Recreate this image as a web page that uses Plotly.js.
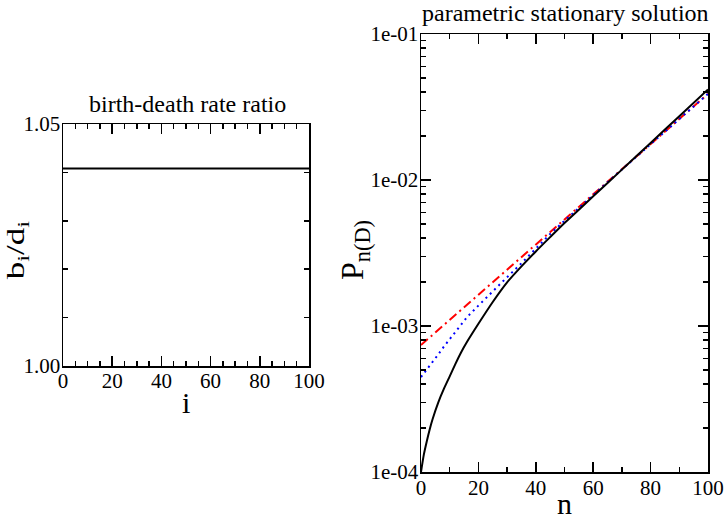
<!DOCTYPE html>
<html>
<head>
<meta charset="utf-8">
<script src="https://cdn.plot.ly/plotly-3.0.1.min.js"></script>
<style>html,body{margin:0;padding:0;background:#fff;}#chart{width:727px;height:519px;}</style>
</head>
<body>
<div id="chart"></div>
<script>
// Left panel: birth-death rate ratio
var ratioI = [0, 100];
var ratioValues = [1.0408, 1.0408];

// Right panel: parametric stationary solution
var blackN = [0, 1, 2, 3, 4, 6, 8, 10, 12, 14, 16, 20, 25, 30, 35, 40, 45, 50, 60, 70, 80, 90, 100];
var blackP = [1.0e-4, 1.32e-4, 1.62e-4, 1.95e-4, 2.29e-4, 2.99e-4, 3.72e-4, 4.52e-4, 5.5e-4, 6.61e-4, 7.76e-4, 1.035e-3, 1.46e-3, 1.99e-3, 2.56e-3, 3.24e-3, 4.06e-3, 5.07e-3, 7.73e-3, 1.178e-2, 1.795e-2, 2.735e-2, 4.17e-2];

var blueN = [0, 2, 4, 6, 8, 10, 13, 16, 20, 25, 30, 35, 40, 45, 50, 60, 70, 80, 90, 100];
var blueP = [4.47e-4, 5.01e-4, 5.62e-4, 6.38e-4, 7.24e-4, 8.13e-4, 9.77e-4, 1.148e-3, 1.38e-3, 1.74e-3, 2.16e-3, 2.69e-3, 3.39e-3, 4.27e-3, 5.25e-3, 7.91e-3, 1.18e-2, 1.758e-2, 2.61e-2, 3.89e-2];

var redN = [0, 10, 20, 30, 40, 50, 60, 70, 80, 90, 100];
var redP = [7.41e-4, 1.10e-3, 1.637e-3, 2.43e-3, 3.61e-3, 5.37e-3, 7.98e-3, 1.186e-2, 1.762e-2, 2.618e-2, 3.89e-2];

// Tick labels
var leftXTicks = [0, 20, 40, 60, 80, 100];
var leftYTicks = [1.00, 1.05];
var leftYTickText = ["1.00", "1.05"];
var rightXTicks = [0, 20, 40, 60, 80, 100];
var rightYTicks = [1e-4, 1e-3, 1e-2, 1e-1];
var rightYTickText = ["1e-04", "1e-03", "1e-02", "1e-01"];

var W = 727, H = 519;
function px(x) { return x / W; }
function py(y) { return 1 - y / H; }

var minorLog = [];
for (var e = -4; e < -1; e++) {
  for (var m = 2; m <= 9; m++) minorLog.push(m * Math.pow(10, e));
}

var fontFam = '"Liberation Serif", "Times New Roman", Times, serif';
var tickFont = {family: fontFam, size: 21, color: "#000"};

var axBase = {
  showgrid: false, zeroline: false, showline: true, linecolor: "#000", linewidth: 1.5,
  mirror: "allticks", ticks: "inside", ticklen: 10, tickwidth: 1.5, tickcolor: "#000",
  tickfont: tickFont
};

function ax(extra) {
  var o = {};
  for (var k in axBase) o[k] = axBase[k];
  for (var k2 in extra) o[k2] = extra[k2];
  return o;
}

var traces = [
  {x: ratioI, y: ratioValues, type: "scatter", mode: "lines", xaxis: "x", yaxis: "y",
   line: {color: "#000", width: 2}, showlegend: false, hoverinfo: "skip"},
  {x: redN, y: redP, type: "scatter", mode: "lines", xaxis: "x2", yaxis: "y2",
   line: {color: "#ff0000", width: 2, dash: "9px,4px,2px,4px"}, showlegend: false},
  {x: blueN, y: blueP, type: "scatter", mode: "lines", xaxis: "x2", yaxis: "y2",
   line: {color: "#0000ff", width: 2, dash: "2px,4px"}, showlegend: false},
  {x: blackN, y: blackP, type: "scatter", mode: "lines", xaxis: "x2", yaxis: "y2",
   line: {color: "#000", width: 2, shape: "spline", smoothing: 0.6}, showlegend: false}
];

var minorStyle = {ticks: "inside", ticklen: 5, tickwidth: 1.5, tickcolor: "#000", showgrid: false};
function minor(extra) {
  var o = {};
  for (var k in minorStyle) o[k] = minorStyle[k];
  for (var k2 in extra) o[k2] = extra[k2];
  return o;
}

var layout = {
  width: W, height: H,
  margin: {l: 0, r: 0, t: 0, b: 0},
  paper_bgcolor: "#fff", plot_bgcolor: "#fff",
  font: {family: fontFam, color: "#000"},
  showlegend: false,
  xaxis: ax({domain: [px(63), px(309)], range: [0, 100], anchor: "y",
    tickvals: leftXTicks, ticktext: leftXTicks.map(String), ticklabelstandoff: -5,
    minor: minor({dtick: 5})}),
  yaxis: ax({domain: [py(366), py(124)], range: [1.0, 1.05], anchor: "x",
    tickvals: leftYTicks, ticktext: leftYTickText, ticklabelstandoff: -3,
    minor: minor({dtick: 0.01})}),
  xaxis2: ax({domain: [px(421), px(708)], range: [0, 100], anchor: "y2",
    tickvals: rightXTicks, ticktext: rightXTicks.map(String), ticklabelstandoff: -4,
    minor: minor({dtick: 10})}),
  yaxis2: ax({domain: [py(472), py(34)], type: "log", range: [-4, -1], anchor: "x2",
    tickvals: rightYTicks, ticktext: rightYTickText, ticklabelstandoff: -3,
    minor: minor({tickvals: minorLog})}),
  annotations: [
    {text: "birth-death rate ratio", xref: "paper", yref: "paper", x: px(187), y: py(104),
     xanchor: "center", yanchor: "middle", showarrow: false, font: {family: fontFam, size: 24, color: "#000"}},
    {text: "parametric stationary solution", xref: "paper", yref: "paper", x: px(565), y: py(13),
     xanchor: "center", yanchor: "middle", showarrow: false, font: {family: fontFam, size: 24, color: "#000"}},
    {text: "i", xref: "paper", yref: "paper", x: px(186), y: py(402),
     xanchor: "center", yanchor: "middle", showarrow: false, font: {family: fontFam, size: 30, color: "#000"}},
    {text: "n", xref: "paper", yref: "paper", x: px(564), y: py(503),
     xanchor: "center", yanchor: "middle", showarrow: false, font: {family: fontFam, size: 30, color: "#000"}},
    {text: "b<sub>i</sub>/d<sub>i</sub>", xref: "paper", yref: "paper", x: px(18), y: py(250),
     xanchor: "center", yanchor: "middle", textangle: -90, showarrow: false, font: {family: fontFam, size: 25, color: "#000"}},
    {text: "P<sub>n(D)</sub>", xref: "paper", yref: "paper", x: px(355), y: py(250),
     xanchor: "center", yanchor: "middle", textangle: -90, showarrow: false, font: {family: fontFam, size: 32, color: "#000"}}
  ]
};

function stretchLabel() {
  // the reference's rotated b_i/d_i label is drawn wider along its baseline
  var groups = document.querySelectorAll("#chart g.annotation");
  var g = groups[4];
  if (!g) return;
  var t = g.querySelector("text");
  if (!t) return;
  t.removeAttribute("transform");
  var bb = t.getBBox();
  var cx = bb.x + bb.width / 2;
  var cy = bb.y + bb.height / 2;
  t.setAttribute("transform", "translate(" + cx + "," + cy + ") scale(1.4,1) translate(" + (-cx) + "," + (-cy) + ")");
}

Plotly.newPlot("chart", traces, layout, {staticPlot: true, displayModeBar: false}).then(function () {
  stretchLabel();
});
</script>
</body>
</html>
